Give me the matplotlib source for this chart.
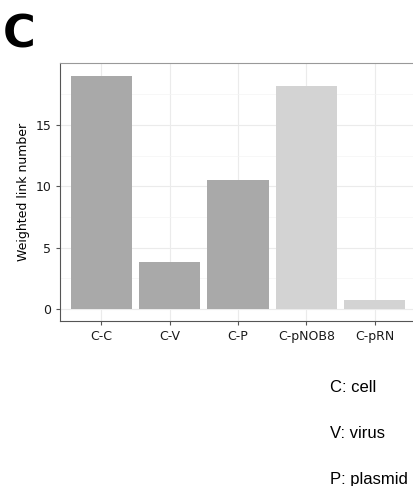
import matplotlib.pyplot as plt
import numpy as np

categories = ["C-C", "C-V", "C-P", "C-pNOB8", "C-pRN"]
values = [19.0, 3.8, 10.55, 18.2, 0.75]
colors = ["#a9a9a9", "#a9a9a9", "#a9a9a9", "#d3d3d3", "#d3d3d3"]
legend_lines = ["C: cell", "V: virus", "P: plasmid"]

fig = plt.figure(figsize=(4.14, 4.86), dpi=100)
ax = fig.add_axes([60.5 / 414, 1 - 321 / 486, 355 / 414, 258 / 486])

x = np.arange(1, len(categories) + 1)
ax.bar(x, values, width=0.9, color=colors, zorder=2)

ax.set_xlim(0.4, 5.6)
ax.set_ylim(-0.98, 20.05)
ax.set_xticks(x)
ax.set_xticklabels(categories)
ax.set_yticks([0, 5, 10, 15])
ax.set_yticks([2.5, 7.5, 12.5, 17.5], minor=True)
ax.grid(which="major", color="#ebebeb", linewidth=0.8, zorder=0)
ax.grid(which="minor", axis="y", color="#f4f4f4", linewidth=0.5, zorder=0)
ax.tick_params(which="major", length=3, color="#555555", labelsize=9, labelcolor="#1a1a1a")
ax.tick_params(which="minor", length=0)
for s in ax.spines.values():
    s.set_color("#999999")
    s.set_linewidth(0.8)
ax.spines["left"].set_color("#555555")
ax.spines["bottom"].set_color("#555555")
ax.set_ylabel("Weighted link number", fontsize=9)

fig.text(3 / 414, 1 - 35 / 486, "C", fontsize=32, fontweight="bold", va="center", ha="left")

for i, t in enumerate(legend_lines):
    fig.text(330 / 414, 1 - (387 + i * 46) / 486, t, fontsize=12,
             family="Liberation Sans", va="center", ha="left")

fig.savefig("out.png", dpi=100)
